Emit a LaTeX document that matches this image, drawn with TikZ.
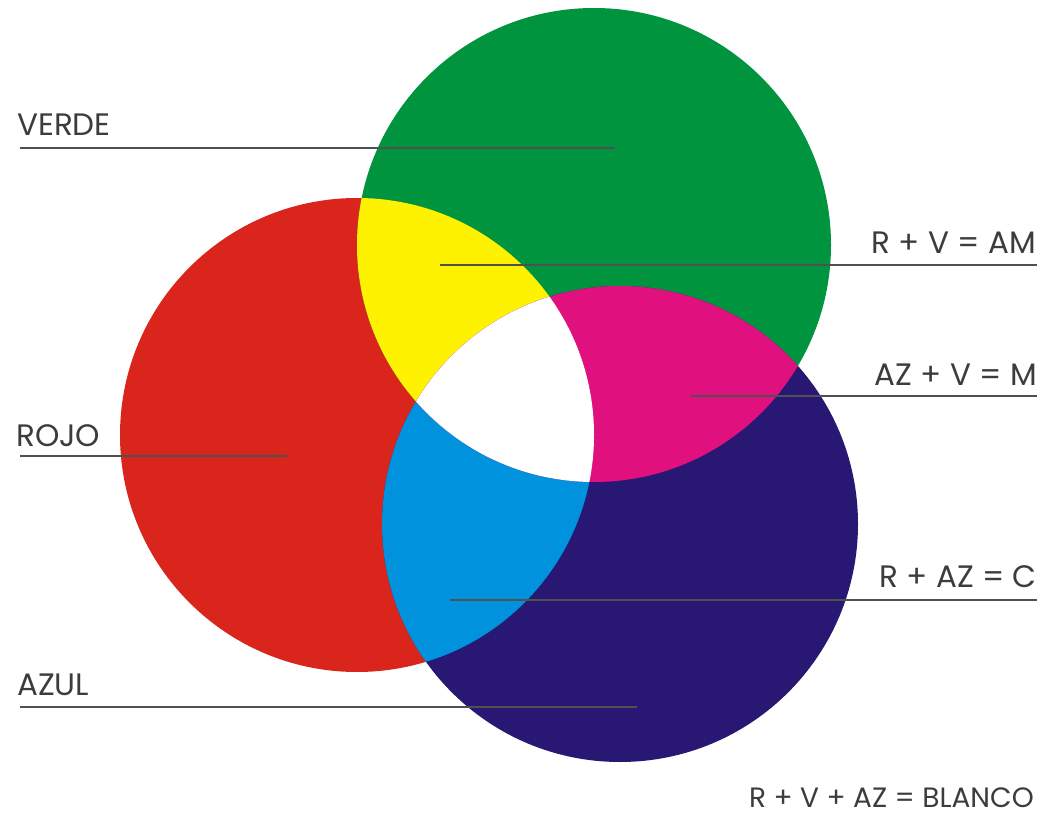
\documentclass[tikz,border=0pt]{standalone}
\usepackage{fontspec}
\setmainfont{Poppins}
\definecolor{cgreen}{RGB}{0,148,62}
\definecolor{cred}{RGB}{218,37,29}
\definecolor{cblue}{RGB}{40,24,115}
\definecolor{cyellow}{RGB}{255,242,0}
\definecolor{cmagenta}{RGB}{224,17,127}
\definecolor{ccyan}{RGB}{0,146,221}
\definecolor{ctext}{RGB}{60,60,60}
\begin{document}
\begin{tikzpicture}[x=1pt,y=-1pt,
  lbl/.style={font=\fontsize{31}{31}\selectfont, text=ctext, inner sep=0pt},
  lead/.style={draw=ctext!90, line width=1.4pt}]
\useasboundingbox (0,0) rectangle (1053,821);
% circles
\def\Rpath{(357,435) circle (237)}
\def\Gpath{(594,245) circle (237)}
\def\Bpath{(620,524) circle (238)}
\fill[cred] \Rpath;
\fill[cgreen] \Gpath;
\fill[cblue] \Bpath;
\begin{scope}
  \clip \Rpath;
  \fill[cyellow] \Gpath;
  \fill[ccyan] \Bpath;
\end{scope}
\begin{scope}
  \clip \Gpath;
  \fill[cmagenta] \Bpath;
  \clip \Rpath;
  \fill[white] \Bpath;
\end{scope}
% labels (left)
\node[lbl, anchor=base west] (verde) at (17,136) {VERDE};
\node[lbl, anchor=base west] (rojo) at (16,446) {ROJO};
\node[lbl, anchor=base west] (azul) at (17,695) {AZUL};
% labels (right)
\node[lbl, anchor=base east] (am) at (1036,254) {R + V = AM};
\node[lbl, anchor=base east] (m) at (1037,385) {AZ + V = M};
\node[lbl, anchor=base east] (c) at (1037,587) {R + AZ = C};
\node[lbl, anchor=base east, font=\fontsize{28}{28}\selectfont] (blanco) at (1034,807) {R + V + AZ = BLANCO};
% leader line ends
\coordinate (verdeA) at (20,148);  \coordinate (verdeB) at (615,148);
\coordinate (rojoA) at (20,456);   \coordinate (rojoB) at (287,456);
\coordinate (azulA) at (20,707);   \coordinate (azulB) at (637,707);
\coordinate (amA) at (1037,265);   \coordinate (amB) at (440,265);
\coordinate (mA) at (1037,396);    \coordinate (mB) at (691,396);
\coordinate (cA) at (1037,600);    \coordinate (cB) at (450,600);
\draw[lead] (verdeA) -- (verdeB);
\draw[lead] (rojoA) -- (rojoB);
\draw[lead] (azulA) -- (azulB);
\draw[lead] (amA) -- (amB);
\draw[lead] (mA) -- (mB);
\draw[lead] (cA) -- (cB);
\end{tikzpicture}
\end{document}
